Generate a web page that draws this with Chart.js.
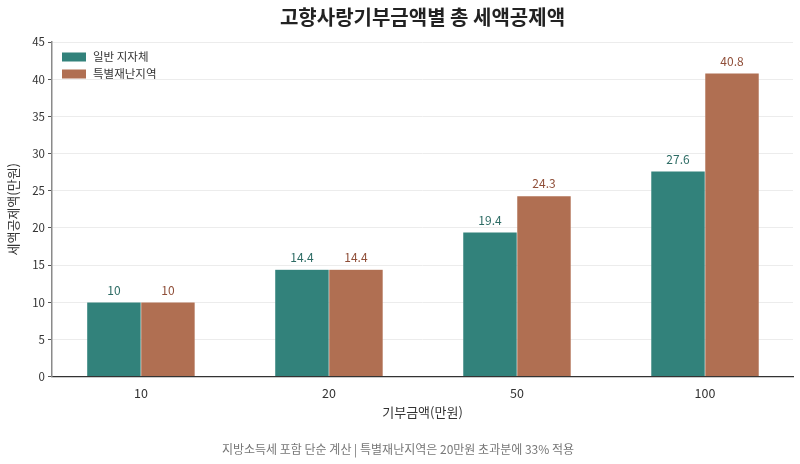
<!DOCTYPE html>
<html>
<head>
<meta charset="utf-8">
<script src="https://cdn.jsdelivr.net/npm/chart.js@4/dist/chart.umd.min.js"></script>
<style>
html,body{margin:0;padding:0;background:#fff;}
#wrap{width:800px;height:464px;}
</style>
</head>
<body>
<div id="wrap"><canvas id="c" width="800" height="464"></canvas></div>
<script>
const categories = ['10', '20', '50', '100'];
const generalValues = [10, 14.4, 19.4, 27.6];
const disasterValues = [10, 14.4, 24.3, 40.8];
const seriesNames = ['일반 지자체', '특별재난지역'];
const titleText = '고향사랑기부금액별 총 세액공제액';
const xTitle = '기부금액(만원)';
const yTitle = '세액공제액(만원)';
const footerText = '지방소득세 포함 단순 계산 | 특별재난지역은 20만원 초과분에 33% 적용';

const FONT = "'Noto Sans CJK KR', 'Noto Sans', sans-serif";
const TEAL = '#32827b';
const BROWN = '#b06f52';
const TEAL_TXT = '#2d6b64';
const BROWN_TXT = '#8f4e38';

const toPts = arr => arr.map((v, i) => ({x: i, y: v}));

const overlay = {
  id: 'overlay',
  afterDatasetsDraw(chart) {
    const ctx = chart.ctx;
    ctx.save();
    ctx.font = '12px ' + FONT;
    ctx.textAlign = 'center';
    ctx.textBaseline = 'bottom';
    chart.data.datasets.forEach((ds, di) => {
      const meta = chart.getDatasetMeta(di);
      ctx.fillStyle = di === 0 ? TEAL_TXT : BROWN_TXT;
      meta.data.forEach((bar, i) => {
        ctx.fillText(String(ds.data[i].y), bar.x, bar.y - 6);
      });
    });
    ctx.restore();
  },
  afterDraw(chart) {
    const ctx = chart.ctx;
    const ca = chart.chartArea;
    ctx.save();
    ctx.textAlign = 'center';
    ctx.textBaseline = 'middle';
    ctx.fillStyle = '#222';
    ctx.font = 'bold 20px ' + FONT;
    ctx.fillText(titleText, (ca.left + ca.right) / 2, 17);
    ctx.fillStyle = '#777';
    ctx.font = '12px ' + FONT;
    ctx.fillText(footerText, 398, 449);
    // legend
    ctx.textAlign = 'left';
    ctx.font = '11.5px ' + FONT;
    chart.data.datasets.forEach((ds, di) => {
      const cy = ca.top + 15 + di * 17;
      ctx.fillStyle = ds.backgroundColor;
      ctx.fillRect(ca.left + 10, cy - 4.5, 24, 9);
      ctx.fillStyle = '#333';
      ctx.fillText(ds.label, ca.left + 41, cy);
    });
    ctx.restore();
  }
};

new Chart(document.getElementById('c'), {
  type: 'bar',
  data: {
    datasets: [
      {label: seriesNames[0], data: toPts(generalValues), backgroundColor: TEAL, borderColor: 'rgba(255,255,255,0.3)', borderWidth: 0.6},
      {label: seriesNames[1], data: toPts(disasterValues), backgroundColor: BROWN, borderColor: 'rgba(255,255,255,0.3)', borderWidth: 0.6}
    ]
  },
  options: {
    responsive: false,
    animation: false,
    devicePixelRatio: 1,
    barThickness: 54,
    layout: {padding: {left: 0, right: 7, top: 42, bottom: 37.5}},
    plugins: {
      legend: {display: false},
      tooltip: {enabled: false},
      title: {display: false}
    },
    scales: {
      x: {
        type: 'linear',
        min: -0.473,
        max: 3.468,
        offset: false,
        afterBuildTicks: axis => { axis.ticks = categories.map((_, i) => ({value: i})); },
        afterFit: s => { s.height = 50; },
        ticks: {
          callback: v => categories[v] !== undefined ? categories[v] : '',
          color: '#333',
          font: {family: FONT, size: 12.5},
          padding: 1,
          maxRotation: 0,
          autoSkip: false
        },
        grid: {display: false},
        border: {display: true, color: '#333', width: 1.3},
        title: {display: true, text: xTitle, color: '#333', font: {family: FONT, size: 13}, padding: {top: 4, bottom: 7}}
      },
      y: {
        min: 0,
        max: 45,
        afterFit: s => { s.width = 52; },
        ticks: {stepSize: 5, color: '#333', font: {family: FONT, size: 11.5}, padding: 3},
        grid: {color: '#ececec', lineWidth: 1, tickColor: '#555', tickLength: 4, drawTicks: true},
        border: {display: true, color: '#8a8a8a', width: 1.5},
        title: {display: true, text: yTitle, color: '#333', font: {family: FONT, size: 13}, padding: {top: 5, bottom: 2}}
      }
    }
  },
  plugins: [overlay]
});
</script>
</body>
</html>
